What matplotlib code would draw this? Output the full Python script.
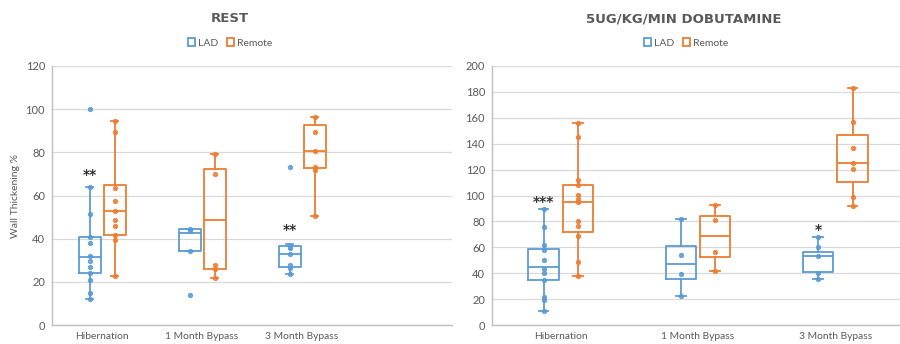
import matplotlib
matplotlib.use("Agg")
import matplotlib.pyplot as plt
from matplotlib.patches import Patch
import matplotlib.transforms as mtransforms
import numpy as np

plt.rcParams['font.family'] = ['Lato', 'DejaVu Sans']

categories = ["Hibernation", "1 Month Bypass", "3 Month Bypass"]
series_names = ["LAD", "Remote"]
colors = {"LAD": "#5B9BD5", "Remote": "#ED7D31"}

# ---------- REST panel ----------
rest_lad_whislo = [11.9, 34.4, 23.5]
rest_lad_q1 = [24.2, 34.4, 27.0]
rest_lad_med = [31.5, 42.8, 32.9]
rest_lad_q3 = [40.9, 44.5, 36.8]
rest_lad_whishi = [64.1, 44.5, 37.4]
rest_lad_points = [[64.1, 51.3, 41.0, 38.0, 32.0, 29.5, 27.0, 24.0, 21.0, 14.7, 12.0],
                   [44.5, 43.5, 34.4],
                   [36.3, 35.5, 32.9, 27.8, 26.3, 23.5]]
rest_lad_outliers = [[100.2], [13.9], [73.2]]

rest_rem_whislo = [22.7, 21.6, 50.7]
rest_rem_q1 = [41.5, 26.1, 72.6]
rest_rem_med = [53.0, 48.8, 80.8]
rest_rem_q3 = [64.9, 72.1, 92.8]
rest_rem_whishi = [94.4, 79.1, 96.2]
rest_rem_points = [[94.4, 89.6, 63.6, 57.5, 53.0, 48.8, 46.0, 41.5, 39.4, 22.7],
                   [79.1, 70.0, 27.6, 26.0, 21.6],
                   [96.2, 89.3, 80.8, 73.4, 71.8, 50.7]]
rest_rem_outliers = [[], [], []]

rest_stars = ["**", "", "**"]
rest_star_y = [71.0, None, 45.4]

# ---------- DOBUTAMINE panel ----------
dob_lad_whislo = [11.1, 22.4, 35.3]
dob_lad_q1 = [34.7, 35.5, 40.7]
dob_lad_med = [44.5, 46.8, 53.0]
dob_lad_q3 = [58.4, 61.3, 56.6]
dob_lad_whishi = [89.8, 81.6, 67.7]
dob_lad_points = [[89.8, 75.7, 62.0, 57.9, 50.5, 43.5, 39.9, 34.7, 21.9, 19.3, 11.1],
                  [81.6, 54.3, 39.6, 22.4],
                  [67.7, 60.5, 53.0, 39.9, 35.3]]
dob_lad_outliers = [[], [], []]

dob_rem_whislo = [37.8, 41.7, 91.9]
dob_rem_q1 = [71.8, 52.5, 110.2]
dob_rem_med = [95.0, 68.7, 125.1]
dob_rem_q3 = [107.8, 84.2, 147.0]
dob_rem_whishi = [156.2, 92.7, 183.3]
dob_rem_points = [[156.2, 144.9, 112.0, 107.8, 100.4, 97.6, 95.0, 80.3, 76.7, 69.0, 48.9, 37.8],
                  [92.7, 81.3, 56.1, 41.7],
                  [183.3, 156.8, 136.9, 125.1, 120.2, 99.1, 91.9]]
dob_rem_outliers = [[], [], []]

dob_stars = ["***", "", "*"]
dob_star_y = [97.0, None, 75.7]

panels = [
    dict(title="REST", ymax=120, xmax=3.5, ylabel="Wall Thickening %",
         lad=(rest_lad_whislo, rest_lad_q1, rest_lad_med, rest_lad_q3, rest_lad_whishi,
              rest_lad_points, rest_lad_outliers),
         rem=(rest_rem_whislo, rest_rem_q1, rest_rem_med, rest_rem_q3, rest_rem_whishi,
              rest_rem_points, rest_rem_outliers),
         stars=rest_stars, star_y=rest_star_y,
         rect=[52/900, 19/344, 400/900, 259/344], title_x=230/900, leg_x=230/900),
    dict(title="5UG/KG/MIN DOBUTAMINE", ymax=200, xmax=2.5, ylabel=None,
         lad=(dob_lad_whislo, dob_lad_q1, dob_lad_med, dob_lad_q3, dob_lad_whishi,
              dob_lad_points, dob_lad_outliers),
         rem=(dob_rem_whislo, dob_rem_q1, dob_rem_med, dob_rem_q3, dob_rem_whishi,
              dob_rem_points, dob_rem_outliers),
         stars=dob_stars, star_y=dob_star_y,
         rect=[492/900, 19/344, 412/900, 259/344], title_x=684/900, leg_x=686/900),
]

fig = plt.figure(figsize=(9, 3.44), dpi=100)
offset = 0.125
box_w = 0.22
grid_c = "#D9D9D9"
text_c = "#595959"

for p in panels:
    ax = fig.add_axes(p["rect"])
    ax.set_xlim(-0.5, p["xmax"])
    ax.set_ylim(0, p["ymax"])
    ax.set_yticks(np.arange(0, p["ymax"] + 1, 20))
    ax.set_xticks(range(len(categories)))
    ax.set_xticklabels(categories, fontsize=7.4)
    ax.yaxis.grid(True, color=grid_c, lw=0.9)
    ax.set_axisbelow(True)
    for s in ["top", "right"]:
        ax.spines[s].set_visible(False)
    for s in ["left", "bottom"]:
        ax.spines[s].set_color("#BFBFBF")
        ax.spines[s].set_linewidth(1.0)
    ax.tick_params(length=0, colors=text_c, pad=5)
    ax.tick_params(axis="y", labelsize=8)
    if p["ylabel"]:
        ax.set_ylabel(p["ylabel"], fontsize=7.5, color=text_c, labelpad=4)

    for name, data, sign in [("LAD", p["lad"], -1), ("Remote", p["rem"], 1)]:
        whislo, q1, med, q3, whishi, pts, outl = data
        col = colors[name]
        stats = []
        for i in range(len(categories)):
            stats.append(dict(whislo=whislo[i], q1=q1[i], med=med[i], q3=q3[i],
                              whishi=whishi[i], fliers=[]))
        pos = [i + sign * offset for i in range(len(categories))]
        ax.bxp(stats, positions=pos, widths=box_w, showfliers=False,
               boxprops=dict(color=col, lw=1.3),
               medianprops=dict(color=col, lw=1.3),
               whiskerprops=dict(color=col, lw=1.3),
               capprops=dict(color=col, lw=1.3),
               capwidths=0.07, manage_ticks=False)
        for i in range(len(categories)):
            ys = pts[i] + outl[i]
            ax.plot([pos[i]] * len(ys), ys, 'o', ms=3.2, mfc=col, mec=col,
                    mew=0.6, alpha=0.9, zorder=3)

    star_tr = ax.transData + mtransforms.ScaledTranslation(0, -3/100, fig.dpi_scale_trans)
    for i, st in enumerate(p["stars"]):
        if st:
            ax.text(i - offset, p["star_y"][i], st, ha="center", va="center",
                    fontsize=10, fontweight="bold", color="#333333",
                    family="DejaVu Sans", transform=star_tr)

    fig.text(p["title_x"], 1 - 19/344, p["title"], ha="center", va="center",
             fontsize=9.5, fontweight="bold", color=text_c, family="DejaVu Sans")
    handles = [Patch(facecolor="none", edgecolor=colors[n], lw=1.3, label=n)
               for n in series_names]
    fig.legend(handles=handles, loc="center", bbox_to_anchor=(p["leg_x"], 1 - 43/344),
               ncol=2, frameon=False, fontsize=7.5, handlelength=0.7, handleheight=0.7,
               handletextpad=0.3, columnspacing=0.8, labelcolor=text_c)

fig.savefig("out.png", dpi=100)
